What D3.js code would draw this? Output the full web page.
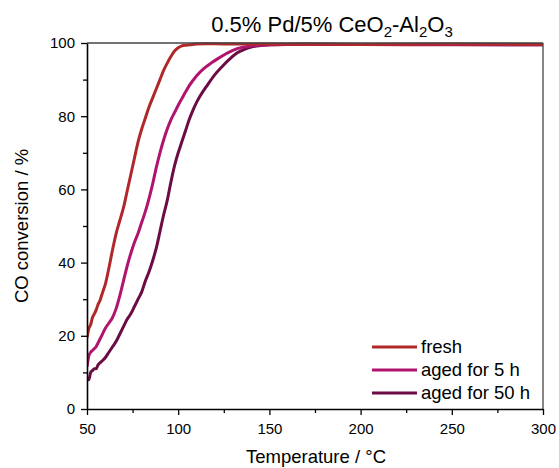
<!DOCTYPE html>
<html>
<head>
<meta charset="utf-8">
<script src="https://cdn.jsdelivr.net/npm/d3@7"></script>
<style>
  html, body { margin: 0; padding: 0; background: #fff; }
  svg { display: block; font-family: Arial, "Liberation Sans", sans-serif; }
</style>
</head>
<body>
<div id="chart"></div>
<script>
  // ── Data ──────────────────────────────────────────────────────────────────
  var seriesNames = ["fresh", "aged for 5 h", "aged for 50 h"];
  var seriesColors = ["#b0282a", "#b0146e", "#6b0c45"];

  var freshT = [50, 51, 52, 53, 54, 55, 56, 57, 58, 59, 60, 62, 64, 66, 68, 70, 72, 74, 76, 78, 80,
    82, 84, 86, 88, 90, 92, 94, 96, 98, 100, 102, 104, 106, 108, 110, 115, 120, 130, 150, 200, 250, 300];
  var freshY = [19.5, 22, 23, 25, 26, 27, 28.5, 29.5, 31, 32.5, 34, 38.5, 43.5, 48, 51.5, 55, 59.5, 64, 68.5, 73, 76.5,
    79.5, 82.5, 85, 87.5, 90, 92.5, 94.5, 96.3, 97.8, 98.7, 99.2, 99.4, 99.5, 99.6, 99.7, 99.8, 99.8, 99.7, 99.7, 99.6, 99.7, 99.6];

  var aged5T = [50, 51, 52, 53, 54, 55, 56, 58, 60, 62, 64, 66, 68, 70, 72, 74, 76, 78, 80, 82, 84,
    86, 88, 90, 92, 94, 96, 98, 100, 102, 104, 106, 108, 110, 114, 118, 122, 126, 130, 135, 140,
    145, 150, 160, 200, 250, 300];
  var aged5Y = [11.5, 14.5, 15.5, 16, 16.5, 17, 18, 20, 22, 23.5, 25, 27.5, 31, 35, 39, 42.5, 45.5, 48, 51, 54, 57.5,
    61.5, 66, 70, 73.5, 76.5, 79, 81, 83, 84.8, 86.6, 88.3, 89.7, 91, 93, 94.5, 95.8, 97, 98, 98.8, 99.2,
    99.4, 99.5, 99.6, 99.6, 99.5, 99.5];

  var aged50T = [50, 51, 52, 53, 54, 55, 56, 58, 60, 62, 64, 66, 68, 70, 72, 74, 76, 78, 80, 82, 84,
    86, 88, 90, 92, 94, 96, 98, 100, 102, 104, 106, 108, 110, 112, 116, 120, 124, 128, 132, 136,
    140, 145, 150, 160, 170, 200, 250, 300];
  var aged50Y = [8.5, 8, 10, 10.5, 11, 11, 12, 13, 14, 15.5, 17, 18.5, 20.5, 22.5, 24.5, 26, 28, 30, 32, 35, 37.5,
    40.5, 44, 48.5, 53, 57, 62, 66.5, 70, 73, 76, 79, 81.5, 83.7, 85.5, 88.5, 91.3, 93.5, 95.5, 97.2, 98.2,
    98.9, 99.3, 99.5, 99.6, 99.7, 99.6, 99.6, 99.5];

  var xTicks = [50, 100, 150, 200, 250, 300];
  var yTicks = [0, 20, 40, 60, 80, 100];

  var series = [
    { name: seriesNames[0], color: seriesColors[0], t: freshT, y: freshY },
    { name: seriesNames[1], color: seriesColors[1], t: aged5T, y: aged5Y },
    { name: seriesNames[2], color: seriesColors[2], t: aged50T, y: aged50Y }
  ];

  // ── Layout ────────────────────────────────────────────────────────────────
  var W = 559, H = 468;
  var margin = { top: 43, right: 16, bottom: 59, left: 87 };
  var iW = W - margin.left - margin.right;
  var iH = H - margin.top - margin.bottom;

  var svg = d3.select("#chart").append("svg").attr("width", W).attr("height", H);

  svg.append("defs").append("clipPath").attr("id", "plot-clip")
    .append("rect").attr("width", iW).attr("height", iH + 2).attr("y", -1);

  var g = svg.append("g").attr("transform", "translate(" + margin.left + "," + margin.top + ")");

  var x = d3.scaleLinear().domain([50, 300]).range([0, iW]);
  var y = d3.scaleLinear().domain([0, 100]).range([iH, 0]);

  // ── Curves ────────────────────────────────────────────────────────────────
  var line = d3.line()
    .x(function (d) { return x(d[0]); })
    .y(function (d) { return y(d[1]); })
    .curve(d3.curveMonotoneX);

  var gClip = g.append("g").attr("clip-path", "url(#plot-clip)");
  series.slice().reverse().forEach(function (s) {
    var pts = s.t.map(function (t, i) { return [t, s.y[i]]; });
    gClip.append("path").datum(pts)
      .attr("fill", "none").attr("stroke", s.color).attr("stroke-width", 3)
      .attr("stroke-linejoin", "round")
      .attr("d", line);
  });

  // ── Frame ─────────────────────────────────────────────────────────────────
  g.append("line").attr("x1", 0).attr("x2", iW).attr("y1", 0).attr("y2", 0)
    .attr("stroke", "#444").attr("stroke-width", 1.3);
  g.append("line").attr("x1", iW).attr("x2", iW).attr("y1", 0).attr("y2", iH)
    .attr("stroke", "#444").attr("stroke-width", 1.3);

  // ── Axes ──────────────────────────────────────────────────────────────────
  function styleAxis(sel) {
    sel.selectAll("path").attr("stroke", "#000").attr("stroke-width", 1.6);
    sel.selectAll("line").attr("stroke", "#000").attr("stroke-width", 1.3);
    sel.selectAll("text").attr("fill", "#000").style("font-size", "15px")
      .style("font-family", "Arial, 'Liberation Sans', sans-serif");
  }

  var xMinor = d3.range(75, 300, 50);
  var yMinor = d3.range(10, 100, 20);

  var gXm = g.append("g").attr("transform", "translate(0," + iH + ")")
    .call(d3.axisBottom(x).tickValues(xMinor).tickSize(4).tickFormat(""));
  gXm.select("path").remove();
  gXm.selectAll("line").attr("stroke", "#000").attr("stroke-width", 1.3);

  var gYm = g.append("g")
    .call(d3.axisLeft(y).tickValues(yMinor).tickSize(4).tickFormat(""));
  gYm.select("path").remove();
  gYm.selectAll("line").attr("stroke", "#000").attr("stroke-width", 1.3);

  var gX = g.append("g").attr("transform", "translate(0," + iH + ")")
    .call(d3.axisBottom(x).tickValues(xTicks).tickSize(6).tickSizeOuter(0).tickPadding(8));
  styleAxis(gX);

  var gY = g.append("g")
    .call(d3.axisLeft(y).tickValues(yTicks).tickSize(6).tickSizeOuter(0).tickPadding(6));
  styleAxis(gY);

  // ── Labels ────────────────────────────────────────────────────────────────
  svg.append("text").attr("x", 316).attr("y", 463)
    .attr("text-anchor", "middle").attr("fill", "#000").style("font-size", "18.5px")
    .text("Temperature / \u00B0C");

  svg.append("text").attr("transform", "translate(28," + (margin.top + iH / 2) + ") rotate(-90)")
    .attr("text-anchor", "middle").attr("fill", "#000").style("font-size", "18.5px")
    .text("CO conversion / %");

  var title = svg.append("text").attr("x", 332).attr("y", 32)
    .attr("text-anchor", "middle").attr("fill", "#000").style("font-size", "22px");
  title.append("tspan").text("0.5% Pd/5% CeO");
  title.append("tspan").attr("dy", 5).style("font-size", "15px").text("2");
  title.append("tspan").attr("dy", -5).text("-Al");
  title.append("tspan").attr("dy", 5).style("font-size", "15px").text("2");
  title.append("tspan").attr("dy", -5).text("O");
  title.append("tspan").attr("dy", 5).style("font-size", "15px").text("3");

  // ── Legend ────────────────────────────────────────────────────────────────
  var leg = svg.append("g").attr("transform", "translate(372,347)");
  series.forEach(function (s, i) {
    var row = leg.append("g").attr("transform", "translate(0," + (i * 23) + ")");
    row.append("line").attr("x1", 0).attr("x2", 45).attr("y1", 0).attr("y2", 0)
      .attr("stroke", s.color).attr("stroke-width", 3);
    row.append("text").attr("x", 49).attr("y", 0).attr("dy", "0.35em")
      .attr("fill", "#000").style("font-size", "18.5px").text(s.name);
  });
</script>
</body>
</html>
